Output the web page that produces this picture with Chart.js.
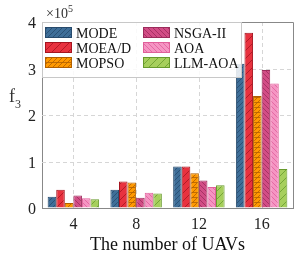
<!DOCTYPE html>
<html>
<head>
<meta charset="utf-8">
<script src="https://cdn.jsdelivr.net/npm/chart.js@4.4.0/dist/chart.umd.min.js"></script>
<style>
  html,body{margin:0;padding:0;background:#fff;}
  #wrap{width:299px;height:256px;}
</style>
</head>
<body>
<div id="wrap"><canvas id="grafico"></canvas></div>
<script>
// datos
const uavs = ['4', '8', '12', '16'];
const metodos = ['MODE', 'MOEA/D', 'MOPSO', 'NSGA-II', 'AOA', 'LLM-AOA'];
const mode    = [24000, 39000, 89000, 310000];
const moead   = [39000, 57000, 89000, 377000];
const mopso   = [11000, 55000, 75000, 241000];
const nsga2   = [27000, 22000, 59000, 297000];
const aoa     = [21000, 33000, 45000, 268000];
const llmaoa  = [19000, 31000, 49000, 84000];
const yTicks  = [0, 1, 2, 3, 4];

const series = [mode, moead, mopso, nsga2, aoa, llmaoa];
const relleno = ['#3e6e98', '#e8323f', '#ff9900', '#d24d86', '#f595c3', '#a6cf5c'];
const borde   = ['#274a6c', '#a5141f', '#b05f00', '#9c2c5c', '#e0609a', '#679a2c'];
// hatch: dirs and spacing
const rayas = [
  {d: ['/'], s: 5},
  {d: ['/'], s: 8},
  {d: ['/', '-'], s: 5},
  {d: ['\\'], s: 5},
  {d: ['\\'], s: 5},
  {d: ['/'], s: 8}
];

function patron(fondo, linea, r){
  const s = r.s;
  const c = document.createElement('canvas');
  c.width = s; c.height = s;
  const x = c.getContext('2d');
  x.fillStyle = fondo;
  x.fillRect(0, 0, s, s);
  x.strokeStyle = linea;
  x.lineWidth = 0.8;
  r.d.forEach(d => {
    x.beginPath();
    if(d == '/'){
      x.moveTo(-1, s + 1); x.lineTo(s + 1, -1);
      x.moveTo(-1, 1); x.lineTo(1, -1);
      x.moveTo(s - 1, s + 1); x.lineTo(s + 1, s - 1);
    }
    if(d == '\\'){
      x.moveTo(-1, -1); x.lineTo(s + 1, s + 1);
      x.moveTo(s - 1, -1); x.lineTo(s + 1, 1);
      x.moveTo(-1, s - 1); x.lineTo(1, s + 1);
    }
    if(d == '-'){
      x.moveTo(0, s / 2); x.lineTo(s, s / 2);
    }
    x.stroke();
  });
  return document.getElementById('grafico').getContext('2d').createPattern(c, 'repeat');
}

const pats = series.map((v, i) => patron(relleno[i], borde[i], rayas[i]));

// dashed grid + box top/right, under the bars
const marco = {
  id: 'marco',
  beforeDatasetsDraw(chart){
    const a = chart.chartArea, ctx = chart.ctx;
    const sx = chart.scales.x, sy = chart.scales.y;
    ctx.save();
    ctx.strokeStyle = '#d6d6d6';
    ctx.lineWidth = 1;
    ctx.setLineDash([4, 3]);
    ctx.beginPath();
    uavs.forEach((u, i) => {
      const px = Math.round(sx.getPixelForTick(i)) + 0.5;
      ctx.moveTo(px, a.top); ctx.lineTo(px, a.bottom);
    });
    yTicks.slice(1, -1).forEach(t => {
      const py = Math.round(sy.getPixelForValue(t * 100000)) + 0.5;
      ctx.moveTo(a.left, py); ctx.lineTo(a.right, py);
    });
    ctx.stroke();
    ctx.setLineDash([]);
    ctx.strokeStyle = '#888';
    ctx.beginPath();
    ctx.moveTo(a.left, a.top + 0.5); ctx.lineTo(a.right + 0.5, a.top + 0.5);
    ctx.lineTo(a.right + 0.5, a.bottom);
    ctx.stroke();
    ctx.restore();
  }
};

const leyenda = {
  id: 'leyenda',
  afterDatasetsDraw(chart){
    const ctx = chart.ctx;
    ctx.save();
    ctx.fillStyle = 'rgba(255,255,255,0.85)';
    ctx.fillRect(42, 22, 200, 55);
    ctx.strokeStyle = '#c8c8c8';
    ctx.lineWidth = 1;
    ctx.strokeRect(42.5, 22.5, 199, 55);
    ctx.font = '14px "Liberation Serif"';
    ctx.textBaseline = 'alphabetic';
    metodos.forEach((m, i) => {
      const col = Math.floor(i / 3), fila = i % 3;
      const sx = col == 0 ? 45 : 143;
      const sy = 27 + fila * 15;
      ctx.fillStyle = pats[i];
      ctx.fillRect(sx, sy, 27, 11);
      ctx.strokeStyle = borde[i];
      ctx.strokeRect(sx + 0.5, sy + 0.5, 26, 10);
      ctx.fillStyle = '#111';
      ctx.fillText(m, sx + 31, sy + 11);
    });
    ctx.restore();
  },
  afterDraw(chart){
    const ctx = chart.ctx;
    ctx.save();
    ctx.fillStyle = '#333';
    ctx.font = '14px "Liberation Serif"';
    ctx.textBaseline = 'alphabetic';
    ctx.fillText('\u00d710', 46, 18);
    ctx.font = '10px "Liberation Serif"';
    ctx.fillText('5', 68, 12);
    ctx.font = '18px "Liberation Serif"';
    ctx.fillText('f', 9, 102);
    ctx.font = '12px "Liberation Serif"';
    ctx.fillText('3', 15, 108);
    ctx.restore();
  }
};

let datos = {
  labels: uavs,
  datasets: series.map((v, i) => ({
    label: metodos[i],
    data: v,
    backgroundColor: pats[i],
    borderColor: borde[i],
    borderWidth: 1,
    categoryPercentage: 0.82,
    barPercentage: 1.0
  }))
};

let opciones = {
  responsive: false,
  animation: false,
  maintainAspectRatio: false,
  layout: { padding: { left: 0, right: 6, top: 22, bottom: 0 } },
  plugins: { legend: { display: false }, tooltip: { enabled: false } },
  scales: {
    x: {
      grid: { color: 'rgba(0,0,0,0)', drawTicks: false },
      border: { color: '#888', width: 1 },
      ticks: { color: '#222', padding: 7, font: { family: 'Liberation Serif', size: 16 } },
      title: { display: true, text: 'The number of UAVs', color: '#111', padding: { top: 0, bottom: 0 },
               font: { family: 'Liberation Serif', size: 18 } },
      afterFit(s){ s.height = 48; }
    },
    y: {
      min: 0, max: 400000,
      afterBuildTicks(s){ s.ticks = yTicks.map(t => ({ value: t * 100000 })); },
      grid: { color: 'rgba(0,0,0,0)', drawTicks: false },
      border: { color: '#888', width: 1 },
      ticks: { color: '#222', padding: 6, labelOffset: 2, font: { family: 'Liberation Serif', size: 16 },
               callback: v => v / 100000 },
      afterFit(s){ s.width = 42; }
    }
  }
};

const canvas = document.getElementById('grafico');
canvas.width = 299; canvas.height = 256;
canvas.style.width = '299px'; canvas.style.height = '256px';

let G1 = new Chart(canvas, {
  type: 'bar',
  data: datos,
  options: opciones,
  plugins: [marco, leyenda]
});
</script>
</body>
</html>
